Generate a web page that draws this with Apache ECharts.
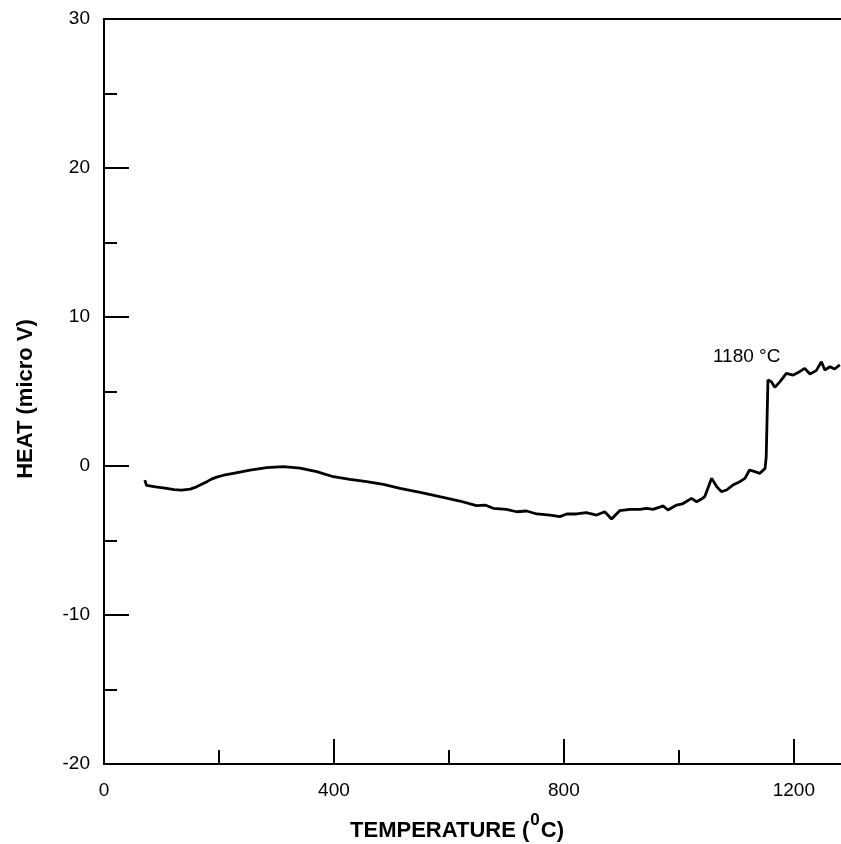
<!DOCTYPE html>
<html>
<head>
<meta charset="utf-8">
<script src="https://cdn.jsdelivr.net/npm/echarts@6/dist/echarts.min.js"></script>
<style>
  html, body { margin: 0; padding: 0; background: #fff; }
  #chart { width: 841px; height: 844px; }
</style>
</head>
<body>
<div id="chart"></div>
<script>
// temperature (°C) and heat signal (micro V)
var temps = [71, 74, 90, 109, 122, 135, 150, 161, 170, 179, 187, 196, 208, 225, 254, 283, 312, 341, 370, 399, 428, 457, 486, 515,
    550, 584, 619, 648, 663, 677, 700, 718, 735, 753, 776, 793, 805, 822, 839, 857, 871, 883, 897, 915,
    932, 944, 955, 973, 981, 996, 1006, 1022, 1031, 1040, 1045, 1057, 1066, 1074, 1083, 1094, 1106, 1115, 1123, 1132,
    1141, 1150, 1152, 1155, 1161, 1167, 1176, 1187, 1199, 1210, 1219, 1228, 1239, 1248, 1254, 1263, 1271, 1280];
var heat = [-0.95, -1.3, -1.4, -1.5, -1.58, -1.62, -1.55, -1.4, -1.22, -1.05, -0.88, -0.75, -0.62, -0.49, -0.27, -0.11, -0.04, -0.14, -0.38, -0.72, -0.9, -1.05, -1.23, -1.5,
    -1.77, -2.06, -2.35, -2.66, -2.62, -2.84, -2.91, -3.07, -3.02, -3.22, -3.29, -3.4, -3.22, -3.22, -3.13, -3.29, -3.07, -3.56, -3.0, -2.91,
    -2.91, -2.84, -2.91, -2.68, -2.95, -2.62, -2.55, -2.17, -2.4, -2.2, -2.06, -0.83, -1.39, -1.72, -1.61, -1.28, -1.05, -0.83, -0.27, -0.38,
    -0.49, -0.16, 0.63, 5.77, 5.66, 5.28, 5.66, 6.22, 6.1, 6.33, 6.55, 6.17, 6.4, 7.0, 6.44, 6.66, 6.51, 6.78];

var xMajor = [400, 800, 1200];
var xMinor = [200, 600, 1000];
var xLabels = [0, 400, 800, 1200];
var yMajor = [-20, -10, 0, 10, 20, 30];
var yMinor = [-15, -5, 5, 15, 25];

var annotation = { text: '1180 °C', coord: [1118, 7.3] };

var myChart = echarts.init(document.getElementById('chart'));

var pts = temps.map(function (t, i) { return [t, heat[i]]; });

var font = 'Liberation Sans, Arial, Helvetica, sans-serif';

var option = {
    animation: false,
    backgroundColor: '#fff',
    grid: {
        left: 104,
        top: 19,
        width: 745,
        height: 745,
        outerBoundsMode: 'none',
        containLabel: false,
        show: true,
        borderColor: '#000',
        borderWidth: 2
    },
    graphic: [{
        type: 'text',
        x: 26,
        y: 399,
        rotation: Math.PI / 2,
        style: {
            text: 'HEAT (micro V)',
            fontFamily: font,
            fontWeight: 'bold',
            fontSize: 22,
            fill: '#000',
            align: 'center',
            verticalAlign: 'middle'
        }
    }, {
        type: 'text',
        x: 457,
        y: 842,
        style: {
            text: '{b|TEMPERATURE (}{s|0}{b|C)}',
            align: 'center',
            verticalAlign: 'bottom',
            rich: {
                b: { fontFamily: font, fontWeight: 'bold', fontSize: 22, fill: '#000', verticalAlign: 'bottom', lineHeight: 30 },
                s: { fontFamily: font, fontWeight: 'bold', fontSize: 17, fill: '#000', verticalAlign: 'top', lineHeight: 30, padding: [0, 1, 10, 1] }
            }
        }
    }],
    xAxis: [{
        type: 'value',
        min: 0,
        max: 1296,
        position: 'bottom',
        axisLine: { show: true, onZero: false, lineStyle: { color: '#000', width: 2 } },
        axisTick: { show: true, inside: true, length: 25, customValues: xMajor, lineStyle: { color: '#000', width: 2 } },
        axisLabel: {
            customValues: xLabels, margin: 17, fontFamily: font, fontSize: 19, color: '#000',
            formatter: function (v) { return String(v); }
        },
        splitLine: { show: false }
    }, {
        type: 'value',
        min: 0,
        max: 1296,
        position: 'bottom',
        axisLine: { show: false, onZero: false },
        axisTick: { show: true, inside: true, length: 14, customValues: xMinor, lineStyle: { color: '#000', width: 2 } },
        axisLabel: { show: false },
        splitLine: { show: false }
    }],
    yAxis: [{
        type: 'value',
        min: -20,
        max: 30,
        interval: 10,
        position: 'left',
        axisLine: { show: true, onZero: false, lineStyle: { color: '#000', width: 2 } },
        axisTick: { show: true, inside: true, length: 25, customValues: yMajor, lineStyle: { color: '#000', width: 2 } },
        axisLabel: { margin: 14, fontFamily: font, fontSize: 19, color: '#000' },
        splitLine: { show: false }
    }, {
        type: 'value',
        min: -20,
        max: 30,
        position: 'left',
        axisLine: { show: false, onZero: false },
        axisTick: { show: true, inside: true, length: 13, customValues: yMinor, lineStyle: { color: '#000', width: 2 } },
        axisLabel: { show: false },
        splitLine: { show: false }
    }],
    series: [{
        type: 'line',
        data: pts,
        showSymbol: false,
        symbol: 'none',
        lineStyle: { color: '#000', width: 2.8 },
        markPoint: {
            symbol: 'circle',
            symbolSize: 0,
            data: [{ coord: annotation.coord }],
            label: {
                show: true,
                position: 'inside',
                formatter: annotation.text,
                fontFamily: font,
                fontSize: 19,
                color: '#000'
            }
        }
    }]
};

myChart.setOption(option);
</script>
</body>
</html>
